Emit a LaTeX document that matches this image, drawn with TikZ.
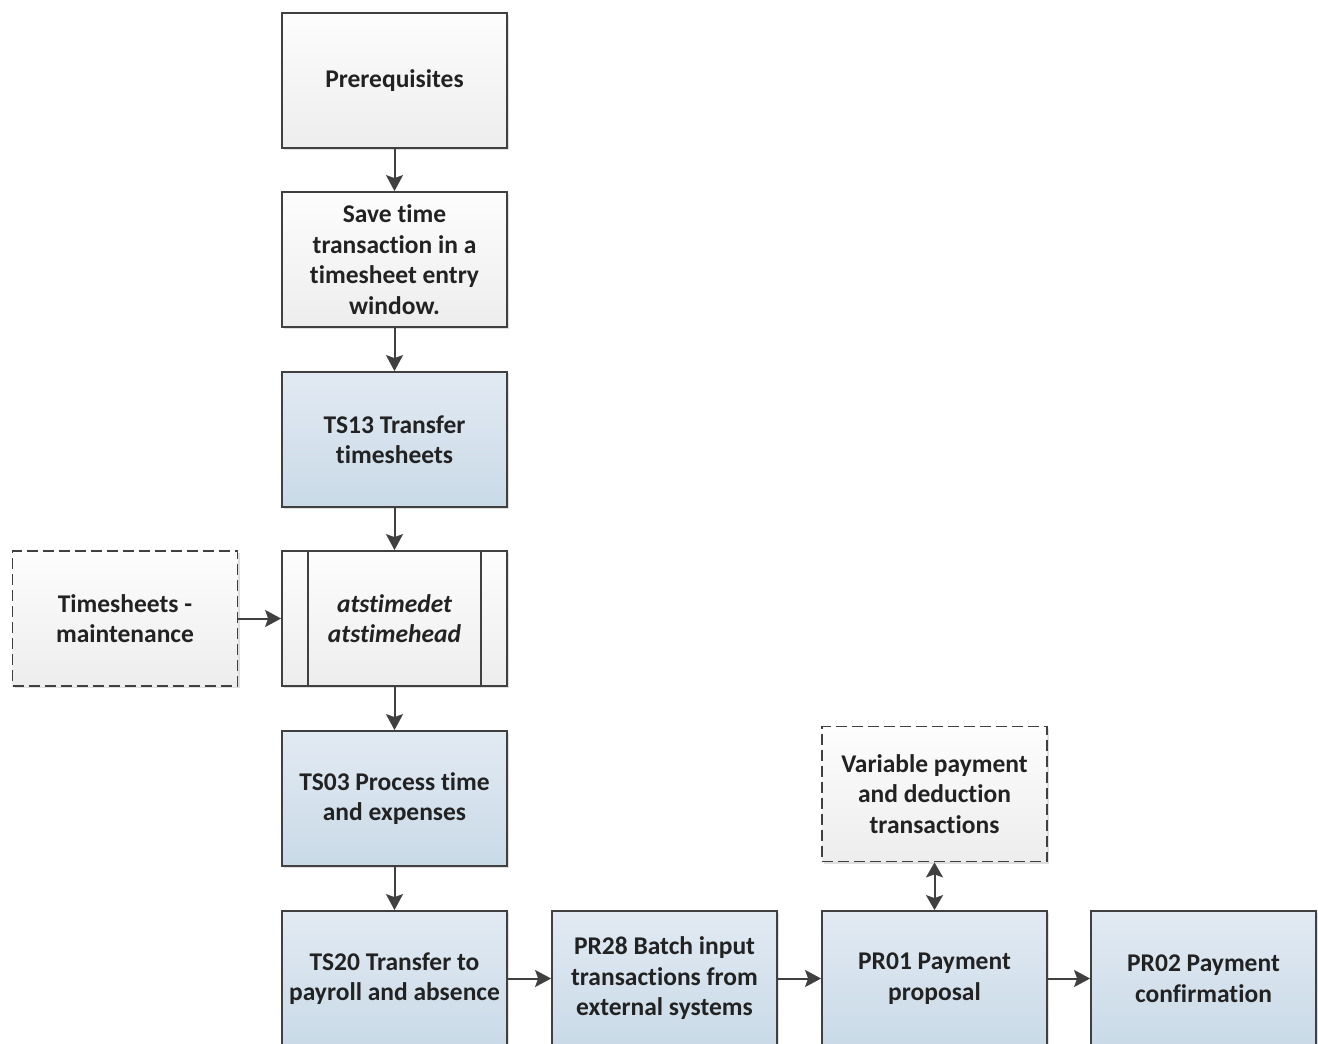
\documentclass[tikz,border=0pt]{standalone}
\usepackage{fontspec}
\setmainfont{Carlito}[Ligatures={NoCommon}]
\usetikzlibrary{arrows.meta,shadows}
\definecolor{edge}{HTML}{404040}
\definecolor{ink}{HTML}{222222}
\definecolor{greytop}{HTML}{FDFDFD}
\definecolor{greybot}{HTML}{EDEDED}
\definecolor{bluetop}{HTML}{E2EAF3}
\definecolor{bluebot}{HTML}{C9DAE7}
\tikzset{
  box/.style={rectangle, draw=edge, line width=1.8pt, minimum width=225pt,
    minimum height=135pt, inner sep=0pt, align=center, text=ink,
    font=\fontsize{25.5}{30.5}\selectfont\bfseries,
    drop shadow={shadow xshift=2pt, shadow yshift=-2pt, fill=black!25, opacity=0.5}},
  greybox/.style={box, top color=greytop, bottom color=greybot},
  bluebox/.style={box, top color=bluetop, bottom color=bluebot},
  extbox/.style={greybox, dash pattern=on 11pt off 5pt},
  tip/.style={Stealth[length=16pt, width=17pt, inset=3pt]},
  flow/.style={draw=edge, line width=2pt, -{Stealth[length=16pt, width=17pt, inset=3pt]}},
  twoway/.style={draw=edge, line width=2pt,
    {Stealth[length=15pt, width=17pt, inset=3pt]}-{Stealth[length=15pt, width=17pt, inset=3pt]}}
}
\begin{document}
\begin{tikzpicture}[x=1pt, y=-1pt]
\useasboundingbox (0,0) rectangle (1318,1044);

% main column
\node[greybox] (pre)  at (394.5, 80.5)  {Prerequisites};
\node[greybox] (save) at (394.5, 259.5) {Save time\\transaction in a\\timesheet entry\\window.};
\node[bluebox] (ts13) at (394.5, 439.5) {TS13 Transfer\\timesheets};
\node[greybox] (tabs) at (394.5, 618.5) {\itshape atstimedet\\\itshape atstimehead};
\node[bluebox] (ts03) at (394.5, 798.5) {TS03 Process time\\and expenses};
\node[bluebox] (ts20) at (394.5, 978.5) {TS20 Transfer to\\payroll and absence};

% side inputs
\node[extbox] (maint) at (125, 618.5) {Timesheets -\\maintenance};
\node[extbox] (var)   at (934.5, 794) {Variable payment\\and deduction\\transactions};

% payroll row
\node[bluebox] (pr28) at (664.5, 978.5)  {PR28 Batch input\\transactions from\\external systems};
\node[bluebox] (pr01) at (934.5, 978.5)  {PR01 Payment\\proposal};
\node[bluebox] (pr02) at (1203.5, 978.5) {PR02 Payment\\confirmation};

% table box side bars
\draw[edge, line width=1.8pt] ([xshift=27pt]tabs.north west) -- ([xshift=27pt]tabs.south west);
\draw[edge, line width=1.8pt] ([xshift=-27pt]tabs.north east) -- ([xshift=-27pt]tabs.south east);

% connectors
\draw[flow] (pre) -- (save);
\draw[flow] (save) -- (ts13);
\draw[flow] (ts13) -- (tabs);
\draw[flow] (tabs) -- (ts03);
\draw[flow] (ts03) -- (ts20);
\draw[flow] (maint) -- (tabs);
\draw[flow] (ts20) -- (pr28);
\draw[flow] (pr28) -- (pr01);
\draw[flow] (pr01) -- (pr02);
\draw[twoway] (var) -- (pr01);
\end{tikzpicture}
\end{document}
